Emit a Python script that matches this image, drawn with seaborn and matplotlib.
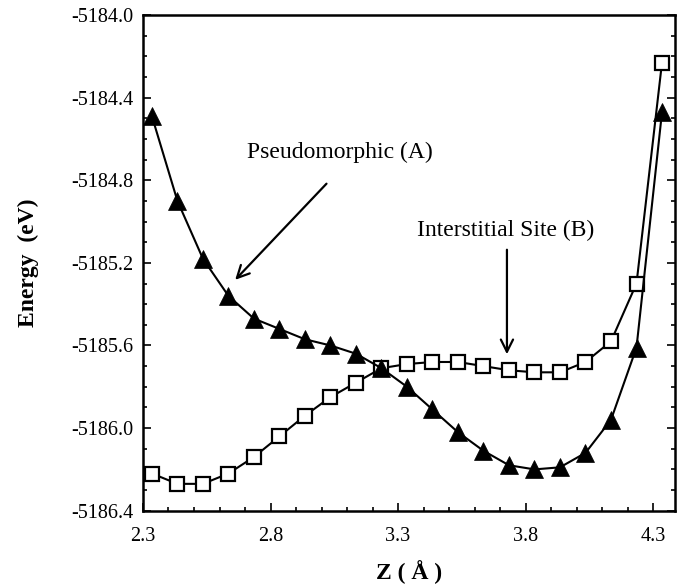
import matplotlib
matplotlib.use("Agg")
import matplotlib.pyplot as plt
import seaborn as sns
import pandas as pd
from matplotlib.ticker import MultipleLocator, FormatStrFormatter

z = [2.335, 2.435, 2.535, 2.635, 2.735, 2.835, 2.935, 3.035, 3.135, 3.235,
     3.335, 3.435, 3.535, 3.635, 3.735, 3.835, 3.935, 4.035, 4.135, 4.235, 4.335]
pseudomorphic = [-5184.49, -5184.90, -5185.18, -5185.36, -5185.47, -5185.52, -5185.57,
                 -5185.60, -5185.64, -5185.71, -5185.80, -5185.91, -5186.02, -5186.11,
                 -5186.18, -5186.20, -5186.19, -5186.12, -5185.96, -5185.61, -5184.47]
interstitial = [-5186.22, -5186.27, -5186.27, -5186.22, -5186.14, -5186.04, -5185.94,
                -5185.85, -5185.78, -5185.71, -5185.69, -5185.68, -5185.68, -5185.70,
                -5185.72, -5185.73, -5185.73, -5185.68, -5185.58, -5185.30, -5184.23]
x_ticks = [2.3, 2.8, 3.3, 3.8, 4.3]
y_ticks = [-5186.4, -5186.0, -5185.6, -5185.2, -5184.8, -5184.4, -5184.0]

sns.set_style("ticks")
plt.rcParams['font.family'] = ['Liberation Serif', 'DejaVu Serif']
plt.rcParams['axes.unicode_minus'] = False
plt.rcParams['text.color'] = 'black'
plt.rcParams['axes.labelcolor'] = 'black'

df = pd.DataFrame({"z": z, "A": pseudomorphic, "B": interstitial})

fig = plt.figure(figsize=(6.78, 5.86), dpi=100)
ax = fig.add_axes([0.2109, 0.1285, 0.7847, 0.8459])

sns.lineplot(data=df, x="z", y="B", ax=ax, color="black", lw=1.5, marker="s",
             markersize=10.5, markerfacecolor="white", markeredgecolor="black",
             markeredgewidth=1.6, zorder=3)
sns.lineplot(data=df, x="z", y="A", ax=ax, color="black", lw=1.5, marker="^",
             markersize=12.5, markerfacecolor="black", markeredgecolor="black",
             markeredgewidth=0.5, zorder=4)

ax.set_xlim(2.3, 4.386)
ax.set_ylim(-5186.4, -5184.0)
ax.set_xticks(x_ticks)
ax.set_yticks(y_ticks)
ax.xaxis.set_minor_locator(MultipleLocator(0.1))
ax.yaxis.set_minor_locator(MultipleLocator(0.1))
ax.yaxis.set_major_formatter(FormatStrFormatter('%.1f'))
ax.xaxis.set_major_formatter(FormatStrFormatter('%.1f'))
ax.tick_params(which='both', direction='in', left=True, right=True, bottom=True, top=False,
               labelsize=14.5, width=1.2, colors='black')
ax.tick_params(axis='x', which='major', pad=12)
ax.tick_params(axis='y', which='major', pad=7)
ax.tick_params(which='major', length=6)
ax.tick_params(which='minor', length=3)
for s in ax.spines.values():
    s.set_linewidth(1.8)
    s.set_color('black')

ax.set_xlabel("Z ( Å )", fontsize=17, fontweight='bold', labelpad=10)
ax.set_ylabel("Energy  (eV)", fontsize=17, fontweight='bold', labelpad=23)

ax.text(3.073, -5184.663, "Pseudomorphic (A)", fontsize=17, ha='center', va='center')
ax.annotate("", xy=(2.654, -5185.292), xytext=(3.027, -5184.807),
            arrowprops=dict(arrowstyle='->', lw=1.6, color='black', mutation_scale=22))
ax.text(3.723, -5185.041, "Interstitial Site (B)", fontsize=17, ha='center', va='center')
ax.annotate("", xy=(3.727, -5185.656), xytext=(3.727, -5185.123),
            arrowprops=dict(arrowstyle='->', lw=1.6, color='black', mutation_scale=22))

fig.savefig("out.png", dpi=100)
